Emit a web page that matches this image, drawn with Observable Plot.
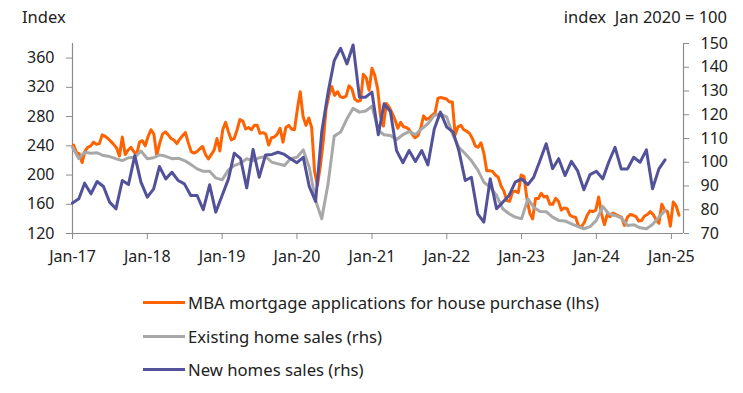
<!DOCTYPE html>
<html>
<head>
<meta charset="utf-8">
<script src="https://cdn.jsdelivr.net/npm/d3@7"></script>
<script src="https://cdn.jsdelivr.net/npm/@observablehq/plot@0.6"></script>
<style>
  html, body { margin: 0; padding: 0; background: #fff; }
  #wrap { position: relative; width: 743px; height: 393px; font-family: "Noto Sans", sans-serif; color: #222; }
  .ttl { position: absolute; top: 6px; font-size: 16.5px; line-height: 22px; white-space: pre; }
  #chart { position: absolute; left: 0; top: 0; }
  #legend { position: absolute; left: 143px; top: 286px; font-size: 16.7px; }
  .row { display: flex; align-items: center; height: 33.5px; }
  .sw { width: 42px; height: 3px; margin-right: 3px; }
</style>
</head>
<body>
<div id="wrap">
  <div class="ttl" style="left:22px">Index</div>
  <div class="ttl" style="right:16px">index  Jan 2020 = 100</div>
  <div id="chart"></div>
  <div id="legend"></div>
</div>
<script>
// ---- Data ----
const seriesNames = [
  "MBA mortgage applications for house purchase (lhs)",
  "Existing home sales (rhs)",
  "New homes sales (rhs)"
];
const seriesColors = ["#FF6200", "#A8A8A8", "#525199"];

// Monthly series (rhs, index Jan 2020 = 100), Jan 2017 .. Dec 2024
const monthlyStart = "2017-01-01";
const existingHomeSales = [
  106.3, 101.5, 104.2, 103.8, 104.0, 102.8, 102.4, 101.5, 100.7, 101.9, 102.1, 104.7,
  101.5, 101.9, 103.1, 102.5, 101.5, 101.7, 100.7, 99.1, 97.2, 96.2, 96.2, 93.4,
  92.6, 96.8, 98.6, 99.6, 101.5, 100.7, 101.9, 102.4, 100.0, 99.3, 98.6, 101.5,
  102.1, 105.2, 97.9, 84.0, 76.2, 91.0, 111.0, 112.7, 118.3, 122.7, 121.1, 121.6,
  123.6, 113.4, 111.6, 111.3, 109.6, 111.6, 112.9, 111.6, 114.1, 116.2, 119.7, 120.4,
  119.0, 111.3, 106.3, 103.6, 100.7, 96.8, 91.6, 89.5, 86.0, 80.4, 78.3, 76.9,
  76.2, 84.6, 81.1, 79.3, 79.2, 76.9, 75.5, 75.3, 74.1, 73.0, 72.0, 72.9,
  75.5, 81.4, 78.3, 77.6, 76.6, 73.4, 73.7, 72.4, 72.0, 73.8, 76.9, 79.7
];
const newHomeSales = [
  82.8, 84.6, 91.2, 86.7, 91.9, 89.8, 83.2, 80.4, 92.3, 90.6, 102.8, 91.6,
  85.3, 88.8, 98.2, 93.0, 95.8, 92.3, 90.9, 86.0, 86.0, 80.0, 90.5, 79.0,
  86.0, 93.0, 103.8, 101.5, 89.2, 105.4, 93.7, 103.1, 103.3, 104.2, 103.3, 101.5,
  99.8, 102.1, 89.8, 83.5, 112.7, 129.5, 142.8, 148.0, 141.4, 149.4, 127.4, 127.4,
  129.5, 111.6, 124.6, 121.4, 104.9, 99.8, 104.9, 100.3, 104.9, 98.9, 114.0, 121.1,
  114.8, 112.7, 104.9, 92.3, 93.7, 78.3, 74.8, 93.0, 80.4, 83.2, 86.0, 91.6,
  93.0, 90.6, 93.7, 100.7, 107.8, 97.3, 101.5, 94.4, 100.4, 96.5, 88.4, 94.8,
  96.2, 93.0, 100.0, 106.3, 97.2, 97.2, 102.1, 100.0, 105.2, 88.8, 97.2, 101.0
];

// MBA purchase index (lhs), every two weeks from 6 Jan 2017
const mbaStart = "2017-01-06";
const mbaStepDays = 14;
const mbaPurchase = [
  241, 231, 229, 217, 233, 238, 240, 245, 242, 243, 255, 253, 250, 246, 242, 237, 226, 252, 228, 234, 238, 232, 228, 245, 247, 240,
  253, 262, 256, 227, 243, 256, 259, 255, 250, 248, 243, 249, 254, 258, 244, 232, 230, 232, 236, 239, 228, 222, 228, 234, 250, 233,
  262, 272, 259, 248, 250, 262, 276, 274, 263, 265, 262, 268, 268, 257, 258, 256, 241, 251, 252, 256, 264, 245, 265, 268, 263, 262,
  290, 314, 280, 268, 278, 265, 205, 186, 212, 245, 290, 309, 321, 309, 314, 307, 306, 308, 322, 318, 304, 301, 302, 338, 333, 316,
  346, 336, 318, 280, 267, 298, 293, 285, 276, 264, 272, 266, 265, 262, 256, 251, 254, 264, 281, 276, 278, 282, 285, 305, 306, 305,
  304, 300, 300, 255, 266, 268, 262, 260, 257, 250, 240, 238, 244, 230, 206, 206, 205, 200, 197, 185, 178, 165, 164, 177, 178, 176,
  200, 198, 168, 148, 140, 168, 168, 175, 170, 171, 160, 160, 168, 164, 152, 155, 154, 145, 143, 142, 130, 129, 135, 145, 151, 150,
  152, 170, 147, 132, 146, 143, 148, 146, 144, 142, 131, 142, 146, 145, 143, 137, 138, 144, 146, 150, 146, 139, 134, 160, 152, 150,
  130, 163, 158, 145
];

// Axes
const leftTicks = [120, 160, 200, 240, 280, 320, 360];
const leftDomain = [120, 380];
const rightTicks = [70, 80, 90, 100, 110, 120, 130, 140, 150];
const rightDomain = [70, 150];
const xTickYears = [2017, 2018, 2019, 2020, 2021, 2022, 2023, 2024, 2025];
const xDomain = ["2017-01-01", "2025-03-01"];

// ---- Build tables ----
const toLeft = v => leftDomain[0] + (v - rightDomain[0]) * (leftDomain[1] - leftDomain[0]) / (rightDomain[1] - rightDomain[0]);
const toRight = l => rightDomain[0] + (l - leftDomain[0]) * (rightDomain[1] - rightDomain[0]) / (leftDomain[1] - leftDomain[0]);

const m0 = new Date(monthlyStart);
const monthDate = i => d3.utcMonth.offset(m0, i);
const existingRows = existingHomeSales.map((v, i) => ({date: monthDate(i), value: toLeft(v)}));
const newRows = newHomeSales.map((v, i) => ({date: monthDate(i), value: toLeft(v)}));
const w0 = new Date(mbaStart);
const mbaRows = mbaPurchase.map((v, i) => ({date: d3.utcDay.offset(w0, i * mbaStepDays), value: v}));

const xTicks = xTickYears.map(y => new Date(Date.UTC(y, 0, 1)));
const fmtX = d3.utcFormat("%b-%y");
const axisGrey = "#8C8C8C";
const textColor = "#222";

const chart = Plot.plot({
  width: 743,
  height: 275,
  marginTop: 43,
  marginBottom: 42,
  marginLeft: 72,
  marginRight: 60,
  style: {fontFamily: "'Noto Sans', sans-serif", fontSize: "16px", color: textColor, background: "transparent"},
  x: {type: "utc", domain: xDomain.map(d => new Date(d))},
  y: {domain: leftDomain},
  marks: [
    Plot.ruleX([new Date(xDomain[0])], {stroke: axisGrey, strokeWidth: 1.2}),
    Plot.ruleX([new Date(xDomain[1])], {stroke: axisGrey, strokeWidth: 1.2}),
    Plot.ruleY([leftDomain[0]], {stroke: axisGrey, strokeWidth: 1.2}),
    Plot.axisY(leftTicks, {anchor: "left", tickSize: 6, tickPadding: 12, label: null, stroke: axisGrey, fill: textColor}),
    Plot.axisY(rightTicks.map(toLeft), {anchor: "right", tickSize: 5, tickPadding: 12, label: null, stroke: axisGrey, fill: textColor,
      tickFormat: d => String(Math.round(toRight(d)))}),
    Plot.axisX(xTicks, {anchor: "bottom", tickSize: 6, tickPadding: 11, label: null, stroke: axisGrey, fill: textColor,
      tickFormat: fmtX}),
    Plot.line(mbaRows, {x: "date", y: "value", stroke: seriesColors[0], strokeWidth: 3, strokeLinejoin: "round"}),
    Plot.line(existingRows, {x: "date", y: "value", stroke: seriesColors[1], strokeWidth: 3, strokeLinejoin: "round"}),
    Plot.line(newRows, {x: "date", y: "value", stroke: seriesColors[2], strokeWidth: 3, strokeLinejoin: "round"})
  ]
});
document.getElementById("chart").appendChild(chart);

const legend = document.getElementById("legend");
seriesNames.forEach((name, i) => {
  const row = document.createElement("div");
  row.className = "row";
  const sw = document.createElement("span");
  sw.className = "sw";
  sw.style.background = seriesColors[i];
  const tx = document.createElement("span");
  tx.textContent = name;
  row.appendChild(sw);
  row.appendChild(tx);
  legend.appendChild(row);
});
</script>
</body>
</html>
